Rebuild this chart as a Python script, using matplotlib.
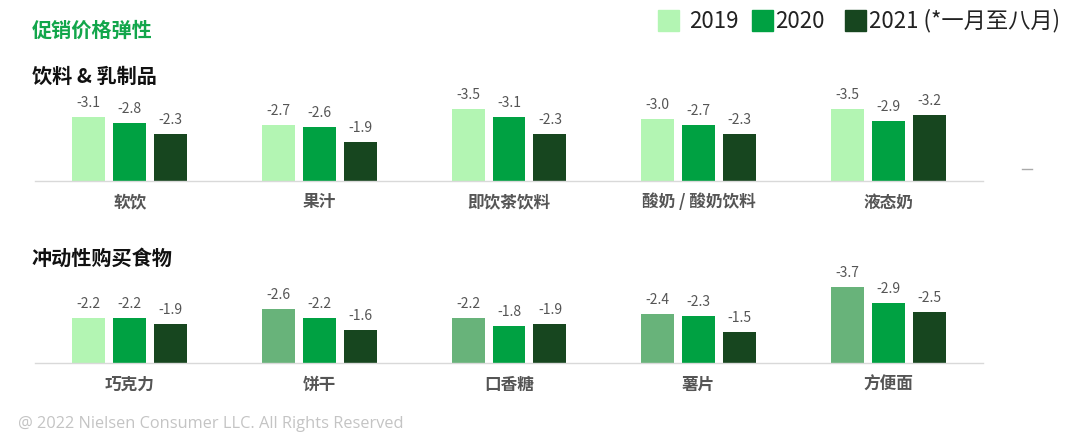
import matplotlib
matplotlib.use("Agg")
import matplotlib.pyplot as plt
from matplotlib.patches import Rectangle
from matplotlib.lines import Line2D
import numpy as np

plt.rcParams['font.family'] = ['Noto Sans CJK SC', 'DejaVu Sans']

# Data
years = ['2019', '2020', '2021 (*一月至八月)']
drink_cats = ['软饮', '果汁', '即饮茶饮料', '酸奶 / 酸奶饮料', '液态奶']
drink_2019 = [-3.1, -2.7, -3.5, -3.0, -3.5]
drink_2020 = [-2.8, -2.6, -3.1, -2.7, -2.9]
drink_2021 = [-2.3, -1.9, -2.3, -2.3, -3.2]

snack_cats = ['巧克力', '饼干', '口香糖', '薯片', '方便面']
snack_2019 = [-2.2, -2.6, -2.2, -2.4, -3.7]
snack_2020 = [-2.2, -2.2, -1.8, -2.3, -2.9]
snack_2021 = [-1.9, -1.6, -1.9, -1.5, -2.5]

c19 = '#b3f5b3'
c19_dark = '#68b37a'
c20 = '#00a142'
c21 = '#17461f'

W, H = 1080, 441
fig = plt.figure(figsize=(W / 100, H / 100), dpi=100)


def fx(px):
    return px / W


def fy(py):
    return 1 - py / H


PX_PER_UNIT = 20.6


def draw_row(base_y, cats, v19, v20, v21, col19):
    top_px = 100
    ax = fig.add_axes([fx(35), fy(base_y), fx(983 - 35), top_px / H])
    x = np.arange(len(cats))
    step = 0.216
    width = 0.174
    for off, vals, cols in [(-step, v19, col19), (0, v20, [c20] * 5), (step, v21, [c21] * 5)]:
        heights = [-v for v in vals]
        bars = ax.bar(x + off, heights, width=width, color=cols, zorder=2)
        for b, v in zip(bars, vals):
            ax.annotate(f'{v:.1f}', (b.get_x() + b.get_width() / 2, b.get_height()),
                        xytext=(0, 5), textcoords='offset points', ha='center', va='bottom',
                        fontsize=10, color='#555555', annotation_clip=False)
    ax.set_xlim(-0.5, len(cats) - 0.5)
    ax.set_ylim(0, top_px / PX_PER_UNIT)
    for s in ['top', 'right', 'left']:
        ax.spines[s].set_visible(False)
    ax.spines['bottom'].set_color('#d9d9d9')
    ax.spines['bottom'].set_linewidth(1)
    ax.set_yticks([])
    ax.set_xticks(x)
    ax.set_xticklabels(cats, fontsize=12, fontweight='bold', color='#555555')
    ax.tick_params(axis='x', length=0, pad=9)
    ax.patch.set_alpha(0)
    return ax


draw_row(181, drink_cats, drink_2019, drink_2020, drink_2021, [c19] * 5)
draw_row(363, snack_cats, snack_2019, snack_2020, snack_2021, [c19] + [c19_dark] * 4)

# Titles
fig.text(fx(32), fy(30), '促销价格弹性', fontsize=14.5, fontweight='bold', color='#12a64b', va='center')
fig.text(fx(32), fy(76), '饮料 & 乳制品', fontsize=14.5, fontweight='bold', color='#111111', va='center')
fig.text(fx(32), fy(258), '冲动性购买食物', fontsize=14.5, fontweight='bold', color='#111111', va='center')

# Legend (square x, text x)
leg_items = [(658, 689, c19, years[0]), (752, 775, c20, years[1]), (845, 869, c21, years[2])]
for sx, tx, col, lab in leg_items:
    fig.patches.append(Rectangle((fx(sx), fy(31)), fx(21), 21 / H, transform=fig.transFigure,
                                 color=col, zorder=3))
    fig.text(fx(tx), fy(21), lab, fontsize=16, color='#222222', va='center')

# small dash at right
fig.add_artist(Line2D([fx(1022), fx(1032)], [fy(169), fy(169)], color='#aaaaaa', lw=1,
                      transform=fig.transFigure))

# Footer
fig.text(fx(18), fy(424), '@ 2022 Nielsen Consumer LLC. All Rights Reserved', fontsize=11.8,
         color='#c4c4c4', va='center', family=['Open Sans', 'DejaVu Sans'])

fig.savefig('out.png', dpi=100)
